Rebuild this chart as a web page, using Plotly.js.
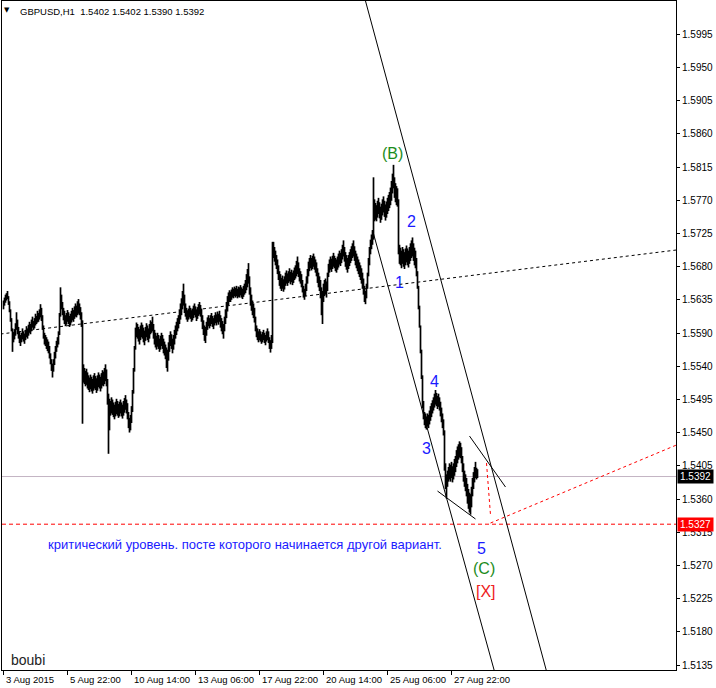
<!DOCTYPE html>
<html><head><meta charset="utf-8">
<script src="https://cdn.plot.ly/plotly-3.0.1.min.js"></script>
<style>html,body{margin:0;padding:0;background:#fff;overflow:hidden}#chart{width:716px;height:688px;}</style>
</head><body><div id="chart"></div>
<script>
// ---- data ----
const headerText = "GBPUSD,H1  1.5402 1.5402 1.5390 1.5392";
const barHigh = [
1.5632,1.5636,1.5640,1.5642,1.5645,1.5638,1.5631,1.5620,1.5608,1.5594,
1.5588,1.5593,1.5601,1.5616,1.5606,1.5596,1.5590,1.5585,1.5588,1.5594,
1.5590,1.5587,1.5592,1.5597,1.5594,1.5599,1.5603,1.5600,1.5606,1.5610,
1.5604,1.5608,1.5614,1.5611,1.5618,1.5615,1.5620,1.5627,1.5622,1.5612,
1.5598,1.5588,1.5585,1.5582,1.5579,1.5576,1.5570,1.5560,1.5552,1.5546,
1.5552,1.5562,1.5570,1.5577,1.5582,1.5590,1.5615,1.5650,1.5640,1.5630,
1.5622,1.5618,1.5612,1.5615,1.5619,1.5616,1.5611,1.5614,1.5618,1.5622,
1.5619,1.5624,1.5628,1.5625,1.5631,1.5634,1.5628,1.5623,1.5616,1.5605,
1.5545,1.5540,1.5536,1.5539,1.5534,1.5530,1.5527,1.5531,1.5528,1.5525,
1.5530,1.5533,1.5529,1.5526,1.5530,1.5534,1.5531,1.5528,1.5533,1.5537,
1.5535,1.5540,1.5545,1.5538,1.5525,1.5505,1.5498,1.5495,1.5500,1.5497,
1.5493,1.5490,1.5494,1.5498,1.5495,1.5491,1.5494,1.5497,1.5493,1.5490,
1.5495,1.5499,1.5503,1.5497,1.5492,1.5480,1.5472,1.5476,1.5488,1.5510,
1.5540,1.5570,1.5595,1.5602,1.5600,1.5596,1.5593,1.5598,1.5602,1.5599,
1.5595,1.5591,1.5596,1.5601,1.5598,1.5594,1.5600,1.5605,1.5603,1.5610,
1.5600,1.5592,1.5588,1.5584,1.5588,1.5585,1.5580,1.5584,1.5588,1.5585,
1.5580,1.5576,1.5572,1.5568,1.5565,1.5575,1.5585,1.5590,1.5586,1.5580,
1.5585,1.5592,1.5598,1.5603,1.5608,1.5612,1.5620,1.5628,1.5635,1.5645,
1.5655,1.5640,1.5628,1.5622,1.5618,1.5621,1.5625,1.5622,1.5618,1.5621,
1.5625,1.5628,1.5624,1.5620,1.5623,1.5627,1.5630,1.5626,1.5621,1.5612,
1.5605,1.5598,1.5596,1.5603,1.5609,1.5612,1.5608,1.5612,1.5615,1.5611,
1.5608,1.5612,1.5616,1.5613,1.5617,1.5614,1.5618,1.5612,1.5608,1.5604,
1.5600,1.5610,1.5620,1.5630,1.5638,1.5643,1.5646,1.5644,1.5647,1.5650,
1.5648,1.5651,1.5649,1.5652,1.5648,1.5651,1.5650,1.5653,1.5650,1.5648,
1.5652,1.5655,1.5660,1.5668,1.5675,1.5683,1.5665,1.5650,1.5640,1.5632,
1.5628,1.5622,1.5610,1.5598,1.5594,1.5590,1.5593,1.5590,1.5586,1.5589,
1.5592,1.5588,1.5585,1.5590,1.5594,1.5590,1.5582,1.5578,1.5585,1.5712,
1.5712,1.5705,1.5700,1.5694,1.5688,1.5680,1.5672,1.5668,1.5663,1.5666,
1.5661,1.5665,1.5670,1.5673,1.5669,1.5672,1.5676,1.5671,1.5674,1.5670,
1.5673,1.5677,1.5680,1.5686,1.5692,1.5684,1.5676,1.5672,1.5668,1.5660,
1.5652,1.5648,1.5655,1.5665,1.5675,1.5685,1.5690,1.5694,1.5690,1.5693,
1.5696,1.5692,1.5688,1.5684,1.5676,1.5670,1.5665,1.5660,1.5650,1.5645,
1.5655,1.5660,1.5662,1.5658,1.5670,1.5682,1.5688,1.5692,1.5689,1.5693,
1.5697,1.5693,1.5690,1.5688,1.5692,1.5696,1.5700,1.5697,1.5702,1.5708,
1.5714,1.5705,1.5698,1.5694,1.5690,1.5694,1.5698,1.5702,1.5706,1.5710,
1.5714,1.5706,1.5700,1.5696,1.5692,1.5688,1.5684,1.5680,1.5676,1.5670,
1.5662,1.5652,1.5645,1.5655,1.5670,1.5690,1.5705,1.5715,1.5722,1.5728,
1.5800,1.5770,1.5765,1.5762,1.5768,1.5772,1.5766,1.5760,1.5764,1.5770,
1.5774,1.5768,1.5763,1.5767,1.5772,1.5776,1.5780,1.5786,1.5795,1.5805,
1.5817,1.5800,1.5792,1.5788,1.5785,1.5770,1.5708,1.5704,1.5700,1.5705,
1.5702,1.5698,1.5703,1.5707,1.5703,1.5700,1.5705,1.5710,1.5714,1.5718,
1.5710,1.5704,1.5700,1.5690,1.5672,1.5652,1.5625,1.5598,1.5565,1.5530,
1.5495,1.5480,1.5478,1.5474,1.5478,1.5476,1.5482,1.5488,1.5492,1.5496,
1.5500,1.5505,1.5510,1.5506,1.5502,1.5505,1.5500,1.5494,1.5486,1.5478,
1.5470,1.5455,1.5410,1.5395,1.5400,1.5405,1.5410,1.5408,1.5412,1.5406,
1.5410,1.5416,1.5420,1.5428,1.5433,1.5436,1.5440,1.5438,1.5432,1.5420,
1.5410,1.5400,1.5395,1.5390,1.5382,1.5375,1.5370,1.5368,1.5378,1.5390,
1.5398,1.5405,1.5412,1.5404,1.5402
];
const barLow = [
1.5620,1.5625,1.5629,1.5632,1.5634,1.5626,1.5616,1.5603,1.5590,1.5562,
1.5575,1.5579,1.5584,1.5592,1.5586,1.5580,1.5574,1.5570,1.5575,1.5579,
1.5576,1.5573,1.5578,1.5582,1.5580,1.5584,1.5588,1.5586,1.5590,1.5595,
1.5592,1.5594,1.5598,1.5600,1.5602,1.5603,1.5606,1.5609,1.5604,1.5592,
1.5580,1.5572,1.5570,1.5566,1.5563,1.5560,1.5553,1.5545,1.5536,1.5527,
1.5535,1.5544,1.5553,1.5562,1.5568,1.5572,1.5585,1.5610,1.5620,1.5612,
1.5605,1.5600,1.5597,1.5599,1.5603,1.5600,1.5596,1.5598,1.5602,1.5605,
1.5603,1.5607,1.5610,1.5609,1.5612,1.5614,1.5612,1.5606,1.5596,1.5464,
1.5520,1.5518,1.5515,1.5517,1.5512,1.5510,1.5507,1.5511,1.5508,1.5505,
1.5509,1.5512,1.5510,1.5506,1.5509,1.5514,1.5512,1.5508,1.5512,1.5516,
1.5515,1.5518,1.5522,1.5515,1.5490,1.5423,1.5455,1.5475,1.5478,1.5476,
1.5473,1.5470,1.5474,1.5477,1.5475,1.5472,1.5474,1.5478,1.5474,1.5471,
1.5475,1.5479,1.5483,1.5478,1.5470,1.5458,1.5452,1.5455,1.5465,1.5480,
1.5505,1.5535,1.5565,1.5582,1.5580,1.5576,1.5572,1.5578,1.5582,1.5580,
1.5575,1.5571,1.5577,1.5582,1.5578,1.5575,1.5580,1.5586,1.5588,1.5590,
1.5580,1.5572,1.5568,1.5565,1.5569,1.5566,1.5562,1.5565,1.5570,1.5566,
1.5560,1.5557,1.5552,1.5540,1.5535,1.5550,1.5562,1.5570,1.5566,1.5560,
1.5565,1.5572,1.5580,1.5585,1.5590,1.5594,1.5600,1.5606,1.5612,1.5620,
1.5625,1.5615,1.5610,1.5606,1.5603,1.5606,1.5609,1.5607,1.5603,1.5605,
1.5608,1.5612,1.5609,1.5604,1.5607,1.5611,1.5613,1.5610,1.5603,1.5593,
1.5585,1.5577,1.5574,1.5584,1.5592,1.5597,1.5594,1.5597,1.5600,1.5596,
1.5593,1.5598,1.5601,1.5598,1.5602,1.5599,1.5603,1.5595,1.5590,1.5586,
1.5580,1.5590,1.5600,1.5608,1.5617,1.5625,1.5630,1.5630,1.5633,1.5636,
1.5635,1.5638,1.5636,1.5638,1.5635,1.5637,1.5636,1.5639,1.5636,1.5634,
1.5637,1.5640,1.5642,1.5646,1.5650,1.5655,1.5640,1.5625,1.5618,1.5612,
1.5608,1.5602,1.5590,1.5582,1.5578,1.5575,1.5578,1.5576,1.5573,1.5575,
1.5578,1.5574,1.5571,1.5576,1.5578,1.5574,1.5566,1.5561,1.5566,1.5574,
1.5690,1.5685,1.5680,1.5675,1.5668,1.5660,1.5652,1.5648,1.5645,1.5648,
1.5644,1.5647,1.5652,1.5655,1.5652,1.5656,1.5658,1.5654,1.5657,1.5653,
1.5656,1.5660,1.5662,1.5665,1.5668,1.5664,1.5658,1.5655,1.5650,1.5643,
1.5636,1.5633,1.5638,1.5645,1.5655,1.5665,1.5672,1.5676,1.5673,1.5675,
1.5678,1.5674,1.5670,1.5665,1.5656,1.5650,1.5645,1.5635,1.5612,1.5600,
1.5630,1.5638,1.5640,1.5636,1.5645,1.5664,1.5670,1.5674,1.5671,1.5675,
1.5678,1.5676,1.5672,1.5670,1.5674,1.5677,1.5681,1.5679,1.5683,1.5688,
1.5692,1.5685,1.5678,1.5674,1.5670,1.5675,1.5679,1.5683,1.5686,1.5690,
1.5692,1.5686,1.5680,1.5676,1.5672,1.5668,1.5664,1.5660,1.5655,1.5648,
1.5640,1.5630,1.5627,1.5635,1.5648,1.5665,1.5680,1.5695,1.5702,1.5708,
1.5715,1.5740,1.5742,1.5740,1.5745,1.5750,1.5744,1.5738,1.5742,1.5748,
1.5752,1.5746,1.5741,1.5745,1.5750,1.5754,1.5758,1.5762,1.5768,1.5778,
1.5785,1.5772,1.5766,1.5762,1.5760,1.5695,1.5682,1.5680,1.5676,1.5682,
1.5678,1.5675,1.5680,1.5684,1.5680,1.5677,1.5682,1.5686,1.5690,1.5692,
1.5686,1.5680,1.5676,1.5665,1.5648,1.5620,1.5595,1.5560,1.5525,1.5485,
1.5470,1.5462,1.5458,1.5456,1.5460,1.5458,1.5463,1.5468,1.5473,1.5478,
1.5482,1.5486,1.5490,1.5488,1.5484,1.5487,1.5482,1.5474,1.5466,1.5458,
1.5448,1.5400,1.5375,1.5362,1.5378,1.5385,1.5388,1.5385,1.5390,1.5384,
1.5388,1.5393,1.5398,1.5405,1.5410,1.5415,1.5418,1.5417,1.5410,1.5398,
1.5385,1.5378,1.5372,1.5365,1.5355,1.5348,1.5343,1.5340,1.5350,1.5365,
1.5375,1.5384,1.5390,1.5388,1.5390
];
const timeTickBars = [0, 64, 128, 192, 256, 320, 384, 448];
const timeTickLabels = ["3 Aug 2015","5 Aug 22:00","10 Aug 14:00","13 Aug 06:00","17 Aug 22:00","20 Aug 14:00","25 Aug 06:00","27 Aug 22:00"];
const priceTickVals = [1.5995,1.59497,1.59045,1.58592,1.58139,1.57687,1.57234,1.56782,1.56329,1.55876,
                       1.55424,1.54971,1.54518,1.54066,1.53613,1.53161,1.52708,1.52255,1.51803,1.5135];
const priceTickLabels = ["1.5995","1.5950","1.5905","1.5860","1.5815","1.5770","1.5725","1.5680","1.5635","1.5590",
                         "1.5540","1.5495","1.5450","1.5405","1.5360","1.5315","1.5270","1.5225","1.5180","1.5135"];
const bidPrice = 1.5392;
const criticalLevel = 1.5327;
const criticalText = "критический уровень. посте которого начинается другой вариант.";
// hand-drawn objects: [x0 bar, y0 price, x1 bar, y1 price]
const dottedTrend = [-3, 1.55863, 673, 1.57009];
const channelUpper = [362, 1.60404, 542.7, 1.51282];
const channelLower = [369, 1.57281, 490.6, 1.51282];
const wedgeLower = [434, 1.53722, 472, 1.53341];
const wedgeUpper = [466, 1.54472, 502, 1.53777];
const redVertical = [483, 1.54104, 487, 1.53395];
const redDiagonal = [487, 1.53286, 673, 1.5435];
const waveLabels = [
  ["(B)", 389, 1.58331, "green"], ["2", 408, 1.57391, "blue"], ["1", 396, 1.56572, "blue"],
  ["4", 431, 1.55222, "blue"], ["3", 423, 1.54309, "blue"], ["5", 478, 1.52945, "blue"],
  ["(C)", 480, 1.52672, "green"], ["[X]", 482, 1.52359, "red"]
];

// ---- drawing ----
const FONT = "Liberation Sans, Arial, sans-serif";
const COLORS = {green: "#1c8c1c", blue: "#1a1aff", red: "#ee2020"};
const segX = [], segY = [];
for (let i = 0; i < barHigh.length; i++) {
  segX.push(i, i, null);
  segY.push(barLow[i], barHigh[i], null);
}
const bars = {
  type: "scatter", mode: "lines", x: segX, y: segY,
  line: {color: "#000", width: 1.7}, connectgaps: false, hoverinfo: "skip", showlegend: false
};
function seg(a, color, dash, layer) {
  return {type: "line", xref: "x", yref: "y", x0: a[0], y0: a[1], x1: a[2], y1: a[3],
          line: {color: color, width: 1, dash: dash || "solid"}, layer: layer || "above"};
}
const shapes = [
  {type: "line", xref: "paper", yref: "y", x0: 0, x1: 1, y0: bidPrice, y1: bidPrice,
   line: {color: "#c4b4c4", width: 1}, layer: "below"},
  {type: "line", xref: "paper", yref: "y", x0: 0, x1: 1, y0: criticalLevel, y1: criticalLevel,
   line: {color: "#ff0000", width: 1, dash: "4px,3px"}, layer: "above"},
  seg(dottedTrend, "#000", "3px,3px"),
  seg(channelUpper, "#000"),
  seg(channelLower, "#000"),
  seg(wedgeLower, "#000"),
  seg(wedgeUpper, "#000"),
  seg(redVertical, "#ff0000", "3px,3px"),
  seg(redDiagonal, "#ff0000", "3px,3px")
];
const annotations = [
  {xref: "paper", yref: "paper", x: 0.0067, y: 0.9865, xanchor: "center", yanchor: "middle",
   text: "▼", showarrow: false, font: {family: "DejaVu Sans", size: 7, color: "#000"}},
  {xref: "paper", yref: "paper", x: 0.0237, y: 0.985, xanchor: "left", yanchor: "middle",
   text: headerText.replace(/ /g, "&nbsp;"), showarrow: false, font: {family: FONT, size: 9.5, color: "#000"}},
  {xref: "paper", yref: "paper", x: 0.0104, y: 0.0149, xanchor: "left", yanchor: "middle",
   text: "boubi", showarrow: false, font: {family: FONT, size: 14, color: "#222"}},
  {xref: "x", yref: "y", x: 241, y: 1.5300, xanchor: "center", yanchor: "middle",
   text: criticalText, showarrow: false, font: {family: FONT, size: 13, color: COLORS.blue}},
  {xref: "paper", yref: "y", x: 1, y: bidPrice, xanchor: "left", yanchor: "middle", xshift: 1,
   text: "1.5392", showarrow: false, bgcolor: "#000", borderpad: 1, width: 33,
   font: {family: FONT, size: 10, color: "#fff"}},
  {xref: "paper", yref: "y", x: 1, y: criticalLevel, xanchor: "left", yanchor: "middle", xshift: 1,
   text: "1.5327", showarrow: false, bgcolor: "#ff0000", borderpad: 1, width: 33,
   font: {family: FONT, size: 10, color: "#fff"}}
];
timeTickBars.forEach((b, k) => annotations.push({
  xref: "x", yref: "paper", x: b, y: 0, xanchor: "left", yanchor: "top", xshift: 0, yshift: -2,
  text: timeTickLabels[k], showarrow: false, font: {family: FONT, size: 9.5, color: "#000"}
}));
waveLabels.forEach(w => annotations.push({
  xref: "x", yref: "y", x: w[1], y: w[2], xanchor: "center", yanchor: "middle",
  text: w[0], showarrow: false, font: {family: FONT, size: 16, color: COLORS[w[3]]}
}));

const layout = {
  width: 716, height: 688,
  margin: {l: 2, r: 40, t: 1, b: 18, pad: 0},
  paper_bgcolor: "#fff", plot_bgcolor: "#fff",
  showlegend: false, hovermode: false,
  xaxis: {range: [-1.5, 672.5], showgrid: false, zeroline: false, showline: true, mirror: true,
          linecolor: "#000", linewidth: 1, ticks: "outside", ticklen: 4, tickcolor: "#000",
          tickvals: timeTickBars, showticklabels: false, automargin: false, fixedrange: true},
  yaxis: {range: [1.51282, 1.60404], side: "right", showgrid: false, zeroline: false, showline: true,
          mirror: true, linecolor: "#000", linewidth: 1, ticks: "outside", ticklen: 3, tickcolor: "#000",
          tickvals: priceTickVals, ticktext: priceTickLabels,
          tickfont: {family: FONT, size: 10, color: "#000"}, automargin: false, fixedrange: true},
  shapes: shapes, annotations: annotations
};
Plotly.newPlot("chart", [bars], layout, {displayModeBar: false, staticPlot: true});
</script>
</body></html>
